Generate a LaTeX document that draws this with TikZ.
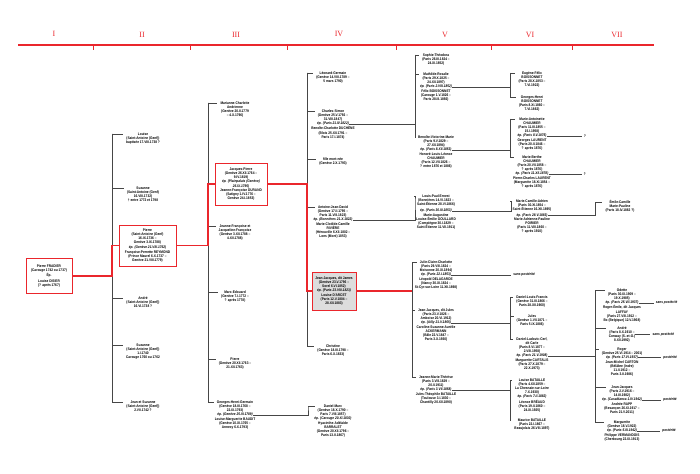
\documentclass[tikz,border=0pt]{standalone}
\usepackage{fontspec}
\newfontfamily\gedfont[FakeStretch=0.86]{Liberation Sans}
\newfontfamily\numfont{Liberation Serif}
\usepackage{xcolor}
\usepackage{tikz}
\usetikzlibrary{positioning}
\definecolor{gedred}{RGB}{234,38,44}
\definecolor{gedgray}{RGB}{70,70,70}
\definecolor{boxgray}{RGB}{221,221,221}
\newcommand{\gsize}{\fontsize{3.7}{4.1}\selectfont}

\begin{document}
\begin{tikzpicture}[x=1pt, y=-1pt]
\tikzstyle{pers}=[align=center, anchor=north, inner sep=0pt, font=\gedfont\gsize\bfseries]
\tikzstyle{epo}=[pers, font=\gedfont\gsize\bfseries\itshape]
\tikzstyle{fbox}=[draw=gedred, line width=1pt, align=center, inner sep=1.5pt, fill=white, font=\gedfont\gsize\bfseries]
\tikzstyle{brk}=[draw=gedgray, line width=0.5pt]
\tikzstyle{rlink}=[draw=gedred, line width=1.3pt]
\tikzstyle{gen}=[text=gedred, inner sep=0pt, font=\numfont\fontsize{8}{8}\selectfont]
\tikzstyle{post}=[inner sep=0pt, font=\gedfont\gsize\bfseries\itshape]
\useasboundingbox (0,0) rectangle (700,473);

%% generations
\node (g1) at (54,34) [gen] {I};
\node (g2) at (142,35) [gen] {II};
\node (g3) at (236,35) [gen] {III};
\node (g4) at (339,34) [gen] {IV};
\node (g5) at (445,35) [gen] {V};
\node (g6) at (530,35) [gen] {VI};
\node (g7) at (617,35) [gen] {VII};
\draw[gedred, line width=1.6pt] (18,45) -- (654,45);
\draw[gedred, line width=1pt] (93,45) -- (93,50);
\draw[gedred, line width=1pt] (190,45) -- (190,50);
\draw[gedred, line width=1pt] (287,45) -- (287,50);
\draw[gedred, line width=1pt] (396,45) -- (396,50);
\draw[gedred, line width=1pt] (491,45) -- (491,50);
\draw[gedred, line width=1pt] (572,45) -- (572,50);

%% brackets
\coordinate (b2) at (112,134);
\coordinate (b3) at (208,103);
\coordinate (b4) at (307,73);
\coordinate (b4d) at (308,406);
\coordinate (b5) at (415,55);
\coordinate (b5b) at (415,200);
\coordinate (b5c) at (412,262);
\coordinate (b6a) at (510,73);
\coordinate (b6b) at (510,119);
\coordinate (b6c) at (511,205);
\coordinate (b6d) at (510,297);
\coordinate (b6e) at (510,380);
\coordinate (b7a) at (595,207);
\coordinate (b7b) at (595,290);

%% I
\node (p1) at (49,276) [fbox, minimum width=46pt, minimum height=35pt] {Pierre FRADIER\\(Carouge 1742 ou 1737)\\[1.2pt]Ép.\\[1.2pt]Louise DISIER\\(? après 1767)};

%% II
\node (p21) at (143,132.3) [pers] {Louise\\(Saint-Antoine (Genf))\\baptisée 17.VIII.1738 ?};
\node (p22) at (143,186.3) [pers] {Suzanne\\(Saint-Antoine (Genf)\\16.VIII.1732)\\† entre 1772 et 1798};
\node (p23) at (147.5,245.5) [fbox, minimum width=57pt, minimum height=41pt] {Pierre\\(Saint-Antoine (Genf)\\16.IX.1736 –\\Genève 3.IX.1788)\\[0.6pt]{\itshape ép. (Genève 21.VIII.1762)}\\[0.6pt]Françoise-Perrette REYMOND\\(Prince Maurel 6.X.1737 –\\Genève 21.VIII.1779)};
\node (p24) at (143,296.3) [pers] {André\\(Saint-Antoine (Genf))\\16.VI.1738 ?};
\node (p25) at (143,343.3) [pers] {Suzanne\\(Saint-Antoine (Genf))\\1.I.1740\\Carouge 1760 ou 1762};
\node (p26) at (143,400.3) [pers] {Jean et Suzanne\\(Saint-Antoine (Genf))\\2.VII.1742 ?};

%% III
\node (p31) at (235,101.3) [pers] {Marianne-Charlotte\\Andrienne\\(Genève 20.II.1779\\– 4.X.1796)};
\node (p32) at (241,184) [fbox, minimum width=52pt, minimum height=42pt] {Jacques-Pierre\\(Genève 26.XII.1764 –\\9.IV.1819)\\[0.6pt]{\itshape ép. (Plainpalais (Genève)}\\{\itshape 26.IX.1795)}\\[0.6pt]Jeanne-Françoise DURAND\\(Satigny 1.IV.1776 –\\Genève 24.I.1853)};
\node (p33) at (235,224.3) [pers] {Jeanne-Françoise et\\Jacqueline-Françoise\\(Genève 3.XII.1788 –\\4.XII.1788)};
\node (p34) at (235,290.3) [pers] {Marc-Edouard\\(Genève 7.I.1772 –\\? après 1778)};
\node (p35) at (235,357.3) [pers] {Pierre\\(Genève 20.XII.1763 –\\21.XII.1763)};
\node (p36) at (235,400.3) [pers] {Georges-Henri-Germain\\(Genève 18.III.1768 –\\22.IX.1793)};
\node (e36) [epo, below=0.6pt of p36] {ép. (Genève 25.III.1789)};
\node (s36) [pers, below=0.6pt of e36] {Louise-Marguerite BAUDIT\\(Genève 10.XI.1765 –\\Annecy 6.X.1793)};

%% IV
\node (p41) at (333,71.3) [pers] {Léonard-Germain\\(Genève 14.VIII.1789 –\\5 mars 1790)};
\node (p42) at (333,109.3) [pers] {Charles-Simon\\(Genève 25.V.1792 –\\31.VIII.1847)};
\node (e42) [epo, below=0.6pt of p42] {ép. (Paris 21.IV.1822)};
\node (s42) [pers, below=0.6pt of e42] {Benoîte-Charlotte DUCHÈNE\\(Blois 25.XII.1791 –\\Paris 17.I.1874)};
\node (p43) at (333,157.3) [pers] {fille mort-née\\(Genève 2.X.1793)};
\node (p44) at (333,205.3) [pers] {Antoine-Jean-David\\(Genève 17.II.1795 –\\Paris 11.VIII.1823)};
\node (e44) [epo, below=0.6pt of p44] {ép. (Bonnières 21.X.1822)};
\node (s44) [pers, below=0.6pt of e44] {Marie-Clotilde-Camille\\RIVIÈRE\\(Hérouville 6.XII.1802 –\\Lons (Mont) 1853)};
\node (p45) at (334,291) [fbox, fill=boxgray, minimum width=44pt, minimum height=38pt] {Jean-Jacques, dit James\\(Genève 23.V.1796 –\\Sorel 6.VI.1852)\\[0.6pt]{\itshape ép. (Paris 23.VIII.1823)}\\[0.6pt]Louise D'ARCET\\(Paris 12.V.1804 –\\28.XII.1883)};
\node (p46) at (333,344.3) [pers] {Christine\\(Genève 18.III.1798 –\\Paris 6.X.1833)};
\node (p47) at (333,404.3) [pers] {Daniel-Marc\\(Genève 18.X.1790 –\\Paris 7.VIII.1857)};
\node (e47) [epo, below=0.6pt of p47] {ép. (Carouge 20.XI.1830)};
\node (s47) [pers, below=0.6pt of e47] {Hyacinthe-Adélaïde\\BARRALET\\(Genève 20.XII.1796 –\\Paris 13.II.1867)};

%% V
\node (p51) at (436,53.3) [pers] {Sophie-Théodora\\(Paris 26.III.1824 –\\24.XI.1852)};
\node (p52) at (436,72.3) [pers] {Mathilde-Rosalie\\(Paris 29.X.1825 –\\24.XII.1897)};
\node (e52) [epo, below=0.6pt of p52] {ép. (Paris 2.VIII.1852)};
\node (s52) [pers, below=0.6pt of e52] {Félix BOISSONNET\\(Carouge 1.V.1826 –\\Paris 28.III.1892)};
\node (p53) at (436,135.3) [pers] {Benoîte-Victorine-Marie\\(Paris 9.V.1829 –\\27.XII.1894)};
\node (e53) [epo, below=0.6pt of p53] {ép. (Paris 8.XII.1853)};
\node (s53) [pers, below=0.6pt of e53] {Honoré-Louis-Léonce\\CHAUMIER\\(Paris 12.VII.1826 –\\? entre 1876 et 1886)};
\node (p54) at (436,194.3) [pers] {Louis-Paul-Ernest\\(Bonnières 14.VI.1823 –\\Saint-Étienne 28.VI.1866)};
\node (e54) [epo, below=2.5pt of p54] {ép. (Paris 30.III.1853)};
\node (s54) [pers, below=0.6pt of e54] {Marie-Augustine\\Louise-Émilie GOULLARD\\(Compiègne 30.I.1829 –\\Saint-Étienne 11.VII.1911)};
\node (p55) at (436,260.3) [pers] {Julie-Claire-Charlotte\\(Paris 29.VIII.1824 –\\Moisonne 20.XI.1894)};
\node (e55) [epo, below=0.6pt of p55] {ép. (Paris 22.I.1853)};
\node (s55) [pers, below=0.6pt of e55] {Léopold DELAGARDE\\(Nancy 30.XI.1824 –\\St-Cyr-sur-Loire 11.XII.1898)};
\node (p56) at (436,308.3) [pers] {Jean-Jacques, dit Jules\\(Paris 23.V.1826 –\\Amboise 20.VI.1912)};
\node (e56) [epo, below=0.6pt of p56] {ép. (Ailly 21.V.1865)};
\node (s56) [pers, below=0.6pt of e56] {Caroline-Suzanne-Aurélie\\ACKERMANN\\(Bâle 22.V.1847 –\\Paris 3.X.1930)};
\node (p57) at (436,375.3) [pers] {Jeanne-Marie-Thérèse\\(Paris 3.VIII.1829 –\\20.II.1911)};
\node (e57) [epo, below=0.6pt of p57] {ép. (Paris 3.VII.1858)};
\node (s57) [pers, below=0.6pt of e57] {Jules-Théophile BATAILLE\\(Toulouse 3.I.1830 –\\Chantilly 20.XII.1890)};

%% VI
\node (p61) at (532,71.3) [pers] {Eugène-Félix\\BOISSONNET\\(Paris 28.X.1853 –\\7.VI.1922)};
\node (p62) at (532,95.3) [pers] {Georges-Henri\\BOISSONNET\\(Paris 8.XI.1860 –\\7.VI.1862)};
\node (p63) at (532,117.3) [pers] {Marie-Antoinette\\CHAUMIER\\(Paris 11.III.1855 –\\15.I.1958)};
\node (e63) [epo, below=0.6pt of p63] {ép. (Paris 8.V.1875)};
\node (s63) [pers, below=0.6pt of e63] {Georges LAURENT\\(Paris 20.II.1846 –\\? après 1876)};
\node (p64) at (532,155.3) [pers] {Marie-Berthe\\CHAUMIER\\(Paris 20.VII.1858 –\\? après 1876)};
\node (e64) [epo, below=0.6pt of p64] {ép. (Paris 11.XII.1878)};
\node (s64) [pers, below=0.6pt of e64] {Pierre-Charles LAURENT\\(Marguerite 18.XI.1854 –\\? après 1876)};
\node (p65) at (532,199.3) [pers] {Marie-Camille-Adrien\\(Paris 30.XI.1854 –\\Saint-Étienne 16.XII.1895)};
\node (e65) [epo, below=1.8pt of p65] {ép. (Paris 28.V.1883)};
\node (s65) [pers, below=0.6pt of e65] {Marie-Adrienne-Pauline\\POIRIER\\(Paris 11.VIII.1860 –\\? après 1910)};
\node (p66) at (532,295.3) [pers] {Daniel-Louis-Francis\\(Genève 31.III.1866 –\\Paris 28.XII.1960)};
\node (p67) at (532,314.3) [pers] {Jules\\(Genève 1.VII.1871 –\\Paris 5.IX.1886)};
\node (p68) at (532,337.3) [pers] {Daniel-Ludovic-Cerf,\\dit Carle\\(Paris 8.VI.1877 –\\2.VIII.1958)};
\node (e68) [epo, below=0.6pt of p68] {ép. (Paris 21.V.1908)};
\node (s68) [pers, below=0.6pt of e68] {Marguerite CARTALIS\\(Paris 27.X.1879 –\\22.X.1973)};
\node (p69) at (532,378.3) [pers] {Louise BATAILLE\\(Paris 4.XII.1859 –\\La Chesnaie-sur-Loire\\7.X.1930)};
\node (e69) [epo, below=0.6pt of p69] {ép. (Paris 7.II.1882)};
\node (s69) [pers, below=0.6pt of e69] {Léonce BRÉAUD\\(Paris 19.II.1860 –\\24.XI.1925)};
\node (p610) at (532,418.3) [pers] {Maurice BATAILLE\\(Paris 22.I.1867 –\\Beaujolais 26.VIII.1897)};

\node (sp55) [post, right=62pt of e55] {sans postérité};
\node (q63) [post, right=37pt of e63] {?};
\node (q64) [post, right=35pt of e64] {?};

%% VII
\node (p71) at (620,200.3) [pers] {Émile-Camille\\Marie-Pauline\\(Paris 18.IV.1882 ?)};
\node (p72) at (622,288.3) [pers] {Odette\\(Paris 30.IX.1909 –\\19.X.1985)};
\node (e72) [epo, below=0.6pt of p72] {ép. (Paris 25.VII.1937)};
\node (s72) [pers, below=0.6pt of e72] {Roger-Émile, dit Jacques\\LAFFAY\\(Paris 27.VIII.1912 –\\Bx (Belgique) 12.V.1968)};
\node (p73) at (622,326.3) [pers] {André\\(Paris 8.X.1910 –\\Conway (S.-et-O.)\\8.XII.1992)};
\node (p74) at (622,347.3) [pers] {Roger\\(Genève 25.VI.1914 – 2001)};
\node (e74) [epo, below=0.6pt of p74] {ép. (Paris 17.VI.1937)};
\node (s74) [pers, below=0.6pt of e74] {Jean-Michel CARTON\\(Bélâbre (Indre)\\11.II.1912 –\\Paris 3.II.1986)};
\node (p75) at (622,385.3) [pers] {Jean-Jacques\\(Paris 2.V.1916 –\\14.III.1982)};
\node (e75) [epo, below=0.6pt of p75] {ép. (Casablanca 1.IV.1942)};
\node (s75) [pers, below=0.6pt of e75] {Andrée RAPP\\(Besançon 26.XI.1917 –\\Paris 21.V.2011)};
\node (p76) at (622,420.3) [pers] {Marguerite\\(Genève 18.V.1922)};
\node (e76) [epo, below=0.6pt of p76] {ép. (Paris 5.III.1942)};
\node (s76) [pers, below=0.6pt of e76] {Philippe VERMANDOIS\\(Cherbourg 22.IX.1913)};

\node (sp72) [post, right=17pt of e72] {sans postérité};
\node (sp73) [post, right=17pt of p73] {sans postérité};
\node (sp74) [post, right=25pt of e74] {postérité};
\node (sp75) [post, right=21pt of e75] {postérité};
\node (sp76) [post, right=25pt of e76] {postérité};

%% links II
\draw[brk] (b2) |- ([xshift=-3pt,yshift=-1.8pt]p21.north west);
\draw[brk] (b2) |- ([xshift=-3pt,yshift=-1.8pt]p22.north west);
\draw[brk] (b2) |- ([xshift=-3pt,yshift=-1.8pt]p24.north west);
\draw[brk] (b2) |- ([xshift=-3pt,yshift=-1.8pt]p25.north west);
\draw[brk] (b2) |- ([xshift=-3pt,yshift=-1.8pt]p26.north west);
%% links III
\draw[brk] (b3) |- ([xshift=-3pt,yshift=-1.8pt]p31.north west);
\draw[brk] (b3) |- ([xshift=-3pt,yshift=-1.8pt]p33.north west);
\draw[brk] (b3) |- ([xshift=-3pt,yshift=-1.8pt]p34.north west);
\draw[brk] (b3) |- ([xshift=-3pt,yshift=-1.8pt]p35.north west);
\draw[brk] (b3) |- ([xshift=-3pt,yshift=-1.8pt]p36.north west);
%% links IV
\draw[brk] (b4) |- ([xshift=-3pt,yshift=-1.8pt]p41.north west);
\draw[brk] (b4) |- ([xshift=-3pt,yshift=-1.8pt]p42.north west);
\draw[brk] (b4) |- ([xshift=-3pt,yshift=-1.8pt]p43.north west);
\draw[brk] (b4) |- ([xshift=-3pt,yshift=-1.8pt]p44.north west);
\draw[brk] (b4) |- ([xshift=-3pt,yshift=-1.8pt]p46.north west);
\draw[brk] (e36.east) -| (b4d) |- ([xshift=-3pt,yshift=-1.8pt]p47.north west);
%% links V
\draw[brk] (e42.east) -- (e42.east -| b5);
\draw[brk] (b5) |- ([xshift=-3pt,yshift=-1.8pt]p51.north west);
\draw[brk] (b5) |- ([xshift=-3pt,yshift=-1.8pt]p52.north west);
\draw[brk] (b5) |- ([xshift=-3pt,yshift=-1.8pt]p53.north west);
\draw[brk] (e44.east) -| (b5b) |- ([xshift=-3pt,yshift=-1.8pt]p54.north west);
\draw[brk] (b5c) |- ([xshift=-3pt,yshift=-1.8pt]p55.north west);
\draw[brk] (b5c) |- ([xshift=-3pt,yshift=-1.8pt]p56.north west);
\draw[brk] (b5c) |- ([xshift=-3pt,yshift=-1.8pt]p57.north west);
%% links VI
\draw[brk] (e52.east) -- (e52.east -| b6a);
\draw[brk] (b6a) |- ([xshift=-3pt,yshift=-1.8pt]p61.north west);
\draw[brk] (b6a) |- ([xshift=-3pt,yshift=-1.8pt]p62.north west);
\draw[brk] (e53.east) -- (e53.east -| b6b);
\draw[brk] (b6b) |- ([xshift=-3pt,yshift=-1.8pt]p63.north west);
\draw[brk] (b6b) |- ([xshift=-3pt,yshift=-1.8pt]p64.north west);
\draw[brk] (e54.east) -| (b6c) |- ([xshift=-3pt,yshift=-1.8pt]p65.north west);
\draw[brk, shorten >=2pt] (e55.east) -- (sp55.west);
\draw[brk] (e56.east) -- (e56.east -| b6d);
\draw[brk] (b6d) |- ([xshift=-3pt,yshift=-1.8pt]p66.north west);
\draw[brk] (b6d) |- ([xshift=-3pt,yshift=-1.8pt]p67.north west);
\draw[brk] (b6d) |- ([xshift=-3pt,yshift=-1.8pt]p68.north west);
\draw[brk] (e57.east) -- (e57.east -| b6e);
\draw[brk] (b6e) |- ([xshift=-3pt,yshift=-1.8pt]p69.north west);
\draw[brk] (b6e) |- ([xshift=-3pt,yshift=-1.8pt]p610.north west);
\draw[brk, shorten >=2pt] (e63.east) -- (q63.west);
\draw[brk, shorten >=2pt] (e64.east) -- (q64.west);
%% links VII
\draw[brk] (e65.east) -| (b7a) |- ([xshift=-3pt,yshift=-1.8pt]p71.north west);
\draw[brk] (e68.east) -- (e68.east -| b7b);
\draw[brk] (b7b) |- ([xshift=-3pt,yshift=-1.8pt]p72.north west);
\draw[brk] (b7b) |- ([xshift=-3pt,yshift=-1.8pt]p73.north west);
\draw[brk] (b7b) |- ([xshift=-3pt,yshift=-1.8pt]p74.north west);
\draw[brk] (b7b) |- ([xshift=-3pt,yshift=-1.8pt]p75.north west);
\draw[brk] (b7b) |- ([xshift=-3pt,yshift=-1.8pt]p76.north west);
\draw[brk, shorten >=2pt] (e72.east) -- (sp72.west);
\draw[brk, shorten >=2pt] (p73.east) -- (sp73.west);
\draw[brk, shorten >=2pt] (e74.east) -- (sp74.west);
\draw[brk, shorten >=2pt] (e75.east) -- (sp75.west);
\draw[brk, shorten >=2pt] (e76.east) -- (sp76.west);

%% main line
\draw[rlink] (p1.east) -- (p1.east -| b2) |- (p23.west);
\draw[rlink] (p23.east) -- (p23.east -| b3) |- (p32.west);
\draw[rlink] (p32.east) -- (p32.east -| b4) |- (p45.west);
\draw[rlink] (p45.east) -- (p45.east -| b5c);
\end{tikzpicture}
\end{document}
